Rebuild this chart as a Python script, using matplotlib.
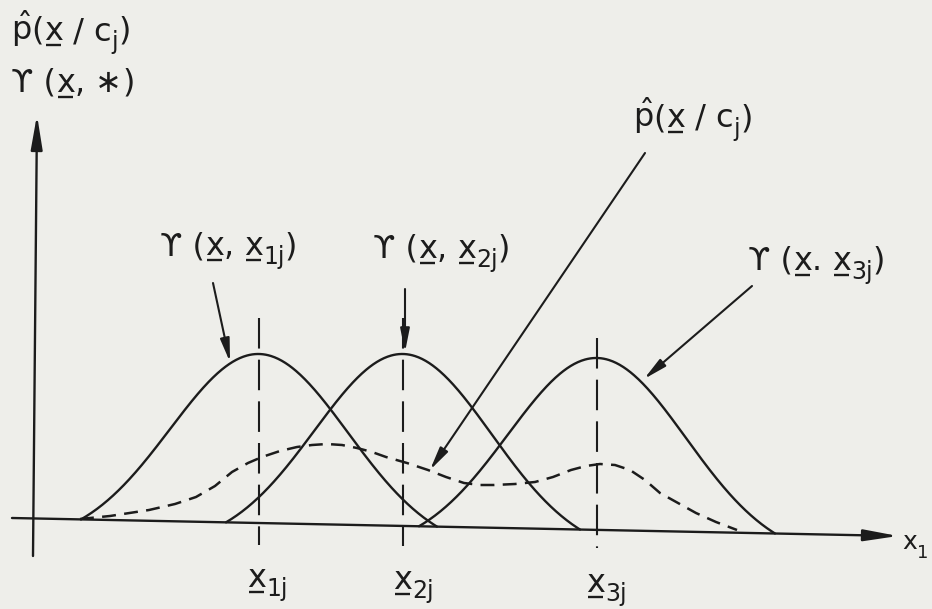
import numpy as np
import matplotlib
matplotlib.use("Agg")
import matplotlib.pyplot as plt

plt.rcParams['mathtext.fontset'] = 'dejavusans'
plt.rcParams['font.family'] = ['DejaVu Sans']
plt.rcParams['lines.scale_dashes'] = False

INK = '#1c1c1c'
PAPER = '#eeeeea'

# Drawing units: x runs left to right, y runs downward (page rows).
# x1 axis drawn from start to arrow tip (slightly slanted, as on the sheet)
axis_x = [12, 898]
axis_y = [518, 536]
# ordinate
ordinate_x = [33, 37]
ordinate_y = [556, 115]

# kernel centres, peak rows and half support of each bell
kernel_centres = [259, 403, 597]
kernel_peaks = [354, 354, 358]
kernel_half_support = [178, 177, 178]

# Parzen estimate p^(x/c_j), dashed
estimate_x = [80, 110, 149, 175, 196, 215, 232, 248, 262, 280, 297, 312, 327,
              342, 357, 372, 386, 407, 428, 446, 464, 480, 494, 515, 535, 553,
              571, 586, 600, 615, 630, 645, 660, 678, 696, 716, 737]
estimate_y = [519, 516, 510, 504, 497, 486, 472, 463, 457, 451, 447, 445, 444,
              445, 448, 452, 457, 463, 470, 477, 483, 485, 485, 484, 482, 477,
              470, 466, 464, 465, 470, 480, 493, 503, 513, 522, 530]

# Label pieces: (text, kind) with kind 'n' normal, 'u' underlined, 's' subscript
PHAT = r'$\hat{\mathrm{p}}$'
GAMMA = 'ϒ'
centre_labels = [[('x', 'u'), ('1j', 's')],
                 [('x', 'u'), ('2j', 's')],
                 [('x', 'u'), ('3j', 's')]]
centre_label_pos = [(247, 587), (393, 589), (586, 592)]
# vertical extent of the dashed centre markers
centre_line_top = [318, 318, 338]
centre_line_bottom = [545, 546, 548]

kernel_labels = [[(GAMMA + ' (', 'n'), ('x', 'u'), (', ', 'n'), ('x', 'u'), ('1j', 's'), (')', 'n')],
                 [(GAMMA + ' (', 'n'), ('x', 'u'), (', ', 'n'), ('x', 'u'), ('2j', 's'), (')', 'n')],
                 [(GAMMA + ' (', 'n'), ('x', 'u'), ('. ', 'n'), ('x', 'u'), ('3j', 's'), (')', 'n')]]
kernel_label_pos = [(160, 255), (373, 258), (748, 270)]
kernel_arrow_from = [(213, 283), (405, 289), (752, 286)]
kernel_arrow_to = [(230, 362), (405, 352), (644, 379)]

estimate_label = [(PHAT, 'n'), ('(', 'n'), ('x', 'u'), (' / c', 'n'), ('j', 's'), (')', 'n')]
estimate_label_pos = (633, 127)
estimate_arrow_from = (645, 153)
estimate_arrow_to = (430, 470)

ordinate_labels = [[(PHAT, 'n'), ('(', 'n'), ('x', 'u'), (' / c', 'n'), ('j', 's'), (')', 'n')],
                   [(GAMMA + ' (', 'n'), ('x', 'u'), (', ', 'n'), ('∗', 'n'), (')', 'n')]]
ordinate_label_pos = [(11, 40), (11, 92)]
abscissa_label = [('x', 'n'), ('1', 's')]
abscissa_label_pos = (902, 549)

FS = 23
SUB_FS = 17
SUB_DROP = 9


def baseline(x):
    x = np.asarray(x, dtype=float)
    return axis_y[0] + (x - axis_x[0]) * (axis_y[1] - axis_y[0]) / (axis_x[1] - axis_x[0])


def bell(x, c, half):
    s = half / 2.0
    floor = np.exp(-half ** 2 / (2 * s ** 2))
    g = (np.exp(-(x - c) ** 2 / (2 * s ** 2)) - floor) / (1 - floor)
    return np.clip(g, 0, None)


fig = plt.figure(figsize=(9.32, 6.09), dpi=100, facecolor=PAPER)
ax = fig.add_axes([0, 0, 1, 1])
ax.set_facecolor(PAPER)
ax.set_xlim(0, 932)
ax.set_ylim(609, 0)
ax.axis('off')
renderer = fig.canvas.get_renderer()


def draw_label(pos, pieces, fs=FS, sub_fs=SUB_FS):
    """Lay out label pieces left to right; one data unit is one pixel."""
    x, y = pos
    for txt, kind in pieces:
        size = sub_fs if kind == 's' else fs
        yy = y + SUB_DROP if kind == 's' else y
        t = ax.text(x, yy, txt, fontsize=size, color=INK, ha='left', va='baseline')
        w = t.get_window_extent(renderer).width
        if kind == 'u':
            ax.plot([x + 2, x + w - 2], [y + 5, y + 5], color=INK, lw=1.7,
                    solid_capstyle='butt')
        x += w


axis_arrow = dict(arrowstyle='-|>,head_length=1.3,head_width=0.22', lw=1.7,
                  color=INK, shrinkA=0, shrinkB=0, mutation_scale=16)
small_arrow = dict(arrowstyle='-|>,head_length=1.0,head_width=0.2', lw=1.5,
                   color=INK, shrinkA=0, shrinkB=0, mutation_scale=14)

# axes
ax.annotate('', xy=(axis_x[1], axis_y[1]), xytext=(axis_x[0], axis_y[0]),
            arrowprops=axis_arrow)
ax.annotate('', xy=(ordinate_x[1], ordinate_y[1]), xytext=(ordinate_x[0], ordinate_y[0]),
            arrowprops=axis_arrow)

# kernels
for c, pk, h in zip(kernel_centres, kernel_peaks, kernel_half_support):
    xs = np.linspace(c - h, c + h, 400)
    amp = baseline(c) - pk
    ax.plot(xs, baseline(xs) - amp * bell(xs, c, h), color=INK, lw=1.7,
            solid_capstyle='round')

# estimate
ax.plot(estimate_x, estimate_y, color=INK, lw=1.8, dashes=(10, 6))

# centre markers and labels
for c, top, bot, lab, pos in zip(kernel_centres, centre_line_top, centre_line_bottom,
                                 centre_labels, centre_label_pos):
    ax.plot([c, c], [top, bot], color=INK, lw=1.5, dashes=(22, 8))
    draw_label(pos, lab)

# kernel annotations
for lab, pos, a, b in zip(kernel_labels, kernel_label_pos, kernel_arrow_from, kernel_arrow_to):
    draw_label(pos, lab)
    ax.annotate('', xy=b, xytext=a, arrowprops=small_arrow)

draw_label(estimate_label_pos, estimate_label)
ax.annotate('', xy=estimate_arrow_to, xytext=estimate_arrow_from, arrowprops=small_arrow)

for lab, pos in zip(ordinate_labels, ordinate_label_pos):
    draw_label(pos, lab)
draw_label(abscissa_label_pos, abscissa_label, fs=18, sub_fs=13)

fig.savefig('out.png', dpi=100, facecolor=PAPER)
